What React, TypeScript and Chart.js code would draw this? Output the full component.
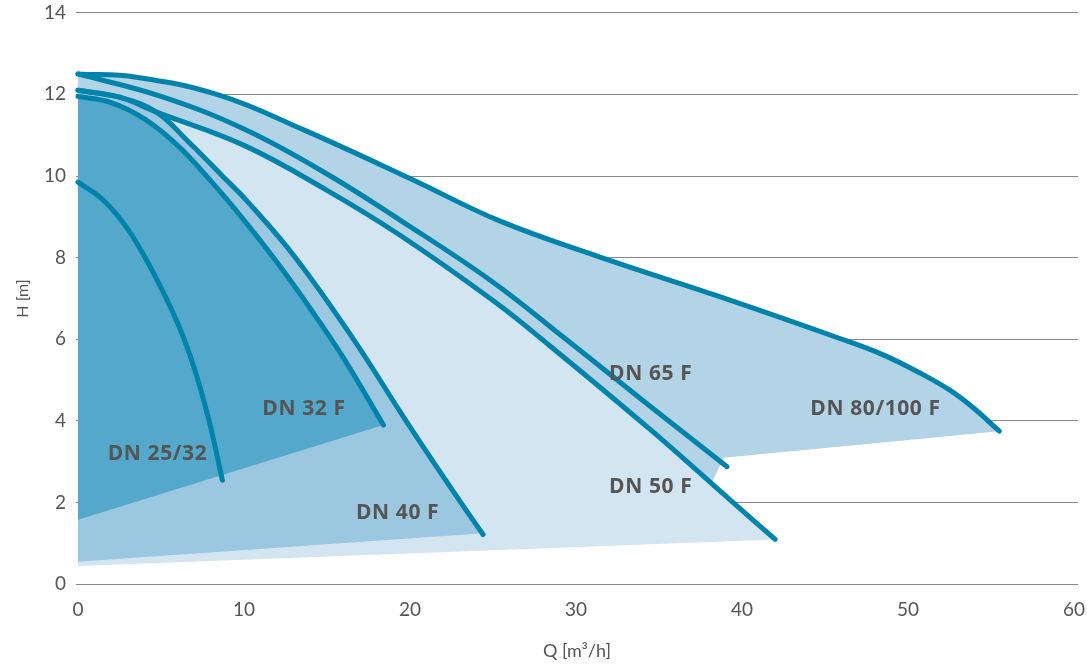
import React, { useEffect, useRef } from 'react';
import { Chart, registerables } from 'chart.js';

Chart.register(...registerables);

// ---- data (Q in m³/h, H in m) ----
const xTicks = [0, 10, 20, 30, 40, 50, 60];
const yTicks = [0, 2, 4, 6, 8, 10, 12, 14];

const dn25X = [0, 1.5, 3, 4.5, 6, 7, 7.9, 8.7];
const dn25Y = [9.85, 9.42, 8.7, 7.66, 6.4, 5.3, 4.0, 2.55];

const dn32X = [0, 2, 4, 6, 8, 10, 12, 14, 16, 18.4];
const dn32Y = [11.95, 11.8, 11.4, 10.75, 9.88, 8.92, 7.88, 6.75, 5.54, 3.9];

const dn40X = [0, 2.5, 4.7, 6.7, 8.7, 10.2, 13.1, 16.6, 19.8, 23.1, 24.4];
const dn40Y = [12.1, 11.93, 11.57, 10.82, 10.0, 9.38, 8.0, 6.0, 3.98, 1.98, 1.22];

const dn50X = [0, 2.5, 4.7, 10, 15, 19.4, 25, 28.4, 34.5, 39.3, 42];
const dn50Y = [12.1, 11.93, 11.57, 10.75, 9.65, 8.55, 6.95, 5.85, 3.78, 2.06, 1.1];

const dn65X = [0, 5, 10, 15, 19.4, 25, 29.4, 34.5, 39.1];
const dn65Y = [12.5, 11.95, 11.15, 10.05, 8.92, 7.4, 6.0, 4.35, 2.88];

const dn80X = [0, 3.5, 8.5, 13.6, 20, 25.4, 31.4, 38.7, 45.9, 48.5, 50.7, 52.5, 54, 55.5];
const dn80Y = [12.5, 12.42, 11.98, 11.13, 9.94, 8.9, 8.02, 7.04, 6.02, 5.62, 5.18, 4.76, 4.3, 3.75];

// lower bounds of the shaded operating areas
const dn32BaseX = [0, 18.4];
const dn32BaseY = [1.58, 3.9];
const dn40BaseX = [0, 24.4];
const dn40BaseY = [0.55, 1.25];
const dn50BaseX = [0, 42];
const dn50BaseY = [0.45, 1.1];
const dn80BaseX = [0, 37.6, 38.9, 55.5];
const dn80BaseY = [0.6, 2.0, 3.1, 3.75];

// curve labels (anchor in data units)
const labelNames = ['DN 25/32', 'DN 32 F', 'DN 40 F', 'DN 50 F', 'DN 65 F', 'DN 80/100 F'];
const labelX = [4.79, 13.61, 19.25, 34.5, 34.5, 48.04];
const labelY = [3.19, 4.3, 1.75, 2.39, 5.16, 4.3];

const pts = (xs: number[], ys: number[]) => xs.map((x, i) => ({ x, y: ys[i] }));

const LINE = '#0083ab';
const C_DARK = '#54a8cb';
const C_MED = '#9bc8e0';
const C_LIGHT = '#d2e5f0';
const C_A = '#b3d4e7';
const TXT = '#555555';

const curve = (data: any, fill: any, bg: string) => ({
  data,
  borderColor: LINE,
  borderWidth: 5,
  borderCapStyle: 'round',
  borderJoinStyle: 'round',
  pointRadius: 0,
  pointHoverRadius: 0,
  tension: 0.4,
  fill,
  backgroundColor: bg,
  clip: false,
});

const base = (data: any) => ({
  data,
  borderWidth: 0,
  borderColor: 'rgba(0,0,0,0)',
  pointRadius: 0,
  pointHoverRadius: 0,
  tension: 0,
  fill: false,
});

const labelPlugin = {
  id: 'curveLabels',
  afterDatasetsDraw(chart: any) {
    const { ctx, scales } = chart;
    ctx.save();
    ctx.font = 'bold 21px "Open Sans"';
    try {
      (ctx as any).letterSpacing = '0.6px';
    } catch (e) {}
    ctx.fillStyle = TXT;
    ctx.textAlign = 'center';
    ctx.textBaseline = 'middle';
    labelNames.forEach((t, i) => {
      ctx.fillText(t, scales.x.getPixelForValue(labelX[i]), scales.y.getPixelForValue(labelY[i]));
    });
    ctx.restore();
  },
};

export default function App() {
  const ref = useRef<HTMLCanvasElement | null>(null);

  useEffect(() => {
    if (!ref.current) return;
    const chart = new Chart(ref.current, {
      type: 'line',
      data: {
        datasets: [
          curve(pts(dn32X, dn32Y), 6, C_DARK) as any,
          curve(pts(dn40X, dn40Y), 7, C_MED) as any,
          curve(pts(dn50X, dn50Y), 8, C_LIGHT) as any,
          curve(pts(dn80X, dn80Y), 9, C_A) as any,
          curve(pts(dn65X, dn65Y), false, 'rgba(0,0,0,0)') as any,
          curve(pts(dn25X, dn25Y), false, 'rgba(0,0,0,0)') as any,
          base(pts(dn32BaseX, dn32BaseY)) as any,
          base(pts(dn40BaseX, dn40BaseY)) as any,
          base(pts(dn50BaseX, dn50BaseY)) as any,
          base(pts(dn80BaseX, dn80BaseY)) as any,
        ],
      },
      options: {
        animation: false,
        responsive: false,
        events: [],
        layout: { autoPadding: false, padding: { top: 12.7, right: 9, left: 0, bottom: 0 } } as any,
        plugins: {
          legend: { display: false },
          tooltip: { enabled: false },
          filler: { drawTime: 'beforeDatasetsDraw' } as any,
        },
        scales: {
          x: {
            type: 'linear',
            min: -0.12,
            max: 60.24,
            afterBuildTicks: (s: any) => {
              s.ticks = xTicks.map((v) => ({ value: v }));
            },
            afterFit: (s: any) => {
              s.height = 82.7;
              s.paddingLeft = 0;
              s.paddingRight = 0;
            },
            grid: { display: false, drawTicks: false },
            border: { display: false },
            ticks: {
              padding: 14,
              color: TXT,
              maxRotation: 0,
              font: { family: 'Lato', size: 19 },
            },
            title: {
              display: true,
              text: 'Q [m³/h]',
              color: TXT,
              font: { family: 'Lato', size: 18 },
              padding: { top: 0, bottom: 5 },
            },
          },
          y: {
            type: 'linear',
            min: 0,
            max: 14,
            afterBuildTicks: (s: any) => {
              s.ticks = yTicks.map((v) => ({ value: v }));
            },
            afterFit: (s: any) => {
              s.width = 76;
              s.paddingTop = 0;
              s.paddingBottom = 0;
            },
            grid: { color: '#888888', lineWidth: 1, drawTicks: false },
            border: { display: false },
            ticks: {
              padding: 10,
              color: TXT,
              font: { family: 'Lato', size: 19 },
            },
            title: {
              display: true,
              text: 'H [m]',
              color: TXT,
              font: { family: 'Lato', size: 16 },
              padding: { top: 13, bottom: 0 },
            },
          },
        },
      },
      plugins: [labelPlugin],
    });
    return () => chart.destroy();
  }, []);

  return (
    <div style={{ position: 'fixed', left: 0, top: 0, width: 1087, height: 667, background: '#fff' }}>
      <canvas ref={ref} width={1087} height={667} style={{ display: 'block', width: 1087, height: 667 }} />
    </div>
  );
}
